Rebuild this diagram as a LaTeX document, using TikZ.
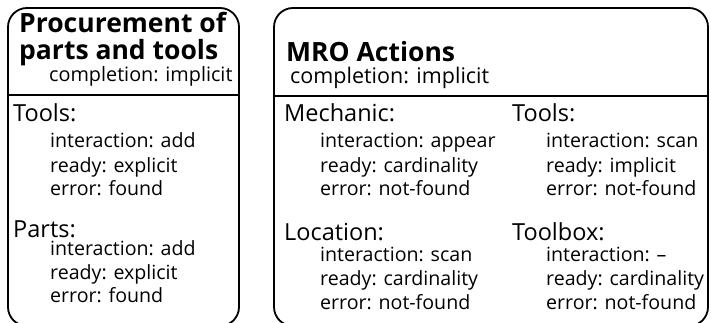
\documentclass[tikz,border=0pt]{standalone}
\usepackage{fontspec}
\setmainfont{Open Sans}
\begin{document}
\begin{tikzpicture}[x=1pt,y=-1pt,
  box/.style={draw, line width=1.8pt, rounded corners=19pt},
  sep/.style={line width=1.6pt},
  title/.style={anchor=base west, inner sep=0pt, font=\fontsize{26.5}{26.5}\selectfont\bfseries},
  head/.style={anchor=base west, inner sep=0pt, font=\fontsize{23.5}{23.5}\selectfont},
  item/.style={anchor=base west, inner sep=0pt, font=\fontsize{19.6}{19.6}\selectfont},
  compl/.style={anchor=base west, inner sep=0pt, font=\fontsize{19.8}{19.8}\selectfont}]
\useasboundingbox (0,0) rectangle (711,323);
\clip (0,0) rectangle (711,323);
% left box
\draw[box] (8,8) rectangle (239,326);
\draw[sep] (8,95) -- (239,95);
\node[title] (pt1) at (19,33) {Procurement of};
\node[title] (pt2) at (19,60) {parts and tools};
\node[compl] (pc) at (49,82) {completion: implicit};
\node[head] (ptools) at (13,122) {Tools:};
\node[item] (pt-i) at (50,148) {interaction: add};
\node[item] (pt-r) at (50,172) {ready: explicit};
\node[item] (pt-e) at (50,195) {error: found};
\node[head] (pparts) at (13,237) {Parts:};
\node[item] (pp-i) at (50,255) {interaction: add};
\node[item] (pp-r) at (50,279) {ready: explicit};
\node[item] (pp-e) at (50,302) {error: found};
% right box
\draw[box] (274,8) rectangle (708,326);
\draw[sep] (274,96) -- (708,96);
\node[title] (mt) at (286,62) {MRO Actions};
\node[compl, font=\fontsize{21.5}{21.5}\selectfont] (mc) at (290,84) {completion: implicit};
\node[head] (mmech) at (284,122) {Mechanic:};
\node[item] (mm-i) at (320,148) {interaction: appear};
\node[item] (mm-r) at (320,172) {ready: cardinality};
\node[item] (mm-e) at (320,195) {error: not-found};
\node[head] (mtools) at (512,122) {Tools:};
\node[item] (mt-i) at (546,148) {interaction: scan};
\node[item] (mt-r) at (546,172) {ready: implicit};
\node[item] (mt-e) at (546,195) {error: not-found};
\node[head] (mloc) at (284,240) {Location:};
\node[item] (ml-i) at (320,261) {interaction: scan};
\node[item] (ml-r) at (320,285) {ready: cardinality};
\node[item] (ml-e) at (320,309) {error: not-found};
\node[head] (mbox) at (512,240) {Toolbox:};
\node[item] (mb-i) at (546,261) {interaction: --};
\node[item] (mb-r) at (546,285) {ready: cardinality};
\node[item] (mb-e) at (546,309) {error: not-found};
\end{tikzpicture}
\end{document}
